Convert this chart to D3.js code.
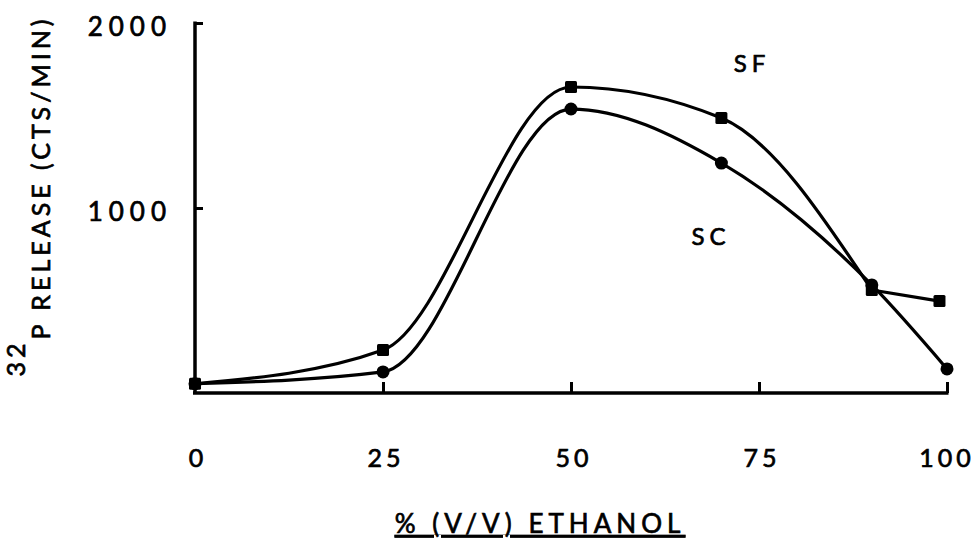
<!DOCTYPE html>
<html>
<head>
<meta charset="utf-8">
<script src="https://cdn.jsdelivr.net/npm/d3@7"></script>
<style>
  body { margin: 0; background: #fff; }
  text { font-family: "Lato", "DejaVu Sans", sans-serif; font-weight: normal; fill: #000;
         stroke: #000; stroke-width: 0.7px; }
</style>
</head>
<body>
<svg id="chart" width="977" height="544"></svg>
<script>
"use strict";

// data
const xTicks = [0, 25, 50, 75, 100];
const yTicks = [1000, 2000];
const sfX = [0, 25, 50, 70, 90, 99];
const sfY = [50, 232, 1654, 1486, 557, 497];
const scX = [0, 25, 50, 70, 90, 100];
const scY = [50, 114, 1535, 1243, 584, 130];

const svg = d3.select("#chart");
const x = d3.scaleLinear().domain([0, 100]).range([195, 947]);
const y = d3.scaleLinear().domain([0, 2000]).range([393, 23]);

const line = d3.line()
  .x(d => x(d[0]))
  .y(d => y(d[1]))
  .curve(d3.curveMonotoneX);

const sf = sfX.map((v, i) => [v, sfY[i]]);
const sc = scX.map((v, i) => [v, scY[i]]);

// axes (ticks point inward, like the original)
const gx = svg.append("g").attr("transform", `translate(0,${y(0)})`)
  .call(d3.axisTop(x).tickValues(xTicks.slice(1)).tickSize(11).tickFormat(""));
const gy = svg.append("g").attr("transform", `translate(${x(0)},0)`)
  .call(d3.axisRight(y).tickValues(yTicks).tickSize(8).tickFormat(""));
[gx, gy].forEach(g => {
  g.select(".domain").attr("stroke", "#000").attr("stroke-width", 3.5)
    .attr("d", g === gx ? `M${x(0) - 2},0H${x(100) + 1.5}` : `M0,${y(2000) - 1.5}V${y(0)}`);
  g.selectAll(".tick line").attr("stroke", "#000").attr("stroke-width", 3);
});

// tick labels
svg.append("g").selectAll("text").data(xTicks).join("text")
  .attr("x", d => x(d) + (d === 100 ? 0 : 3)).attr("y", 467)
  .attr("text-anchor", "middle")
  .style("font-size", "25px").style("letter-spacing", "4px")
  .text(d => d);
svg.append("g").selectAll("text").data(yTicks).join("text")
  .attr("x", 172).attr("y", d => y(d) + 13)
  .attr("text-anchor", "end")
  .style("font-size", "26px").style("letter-spacing", "6px")
  .text(d => d);

// curves: SF has a kink at 90, so its short tail is drawn on its own
const paths = [sf.slice(0, 5), sf.slice(4), sc];
paths.forEach(s => {
  svg.append("path").attr("d", line(s))
    .attr("fill", "none").attr("stroke", "#000").attr("stroke-width", 3.2)
    .attr("stroke-linejoin", "round").attr("stroke-linecap", "round");
});

svg.append("g").selectAll("rect").data(sf).join("rect")
  .attr("x", d => x(d[0]) - 6).attr("y", d => y(d[1]) - 6)
  .attr("width", 12).attr("height", 12).attr("rx", 1.5).attr("fill", "#000");
svg.append("g").selectAll("circle").data(sc).join("circle")
  .attr("cx", d => x(d[0])).attr("cy", d => y(d[1]))
  .attr("r", 6.5).attr("fill", "#000");

// series labels
svg.append("text").attr("x", 752).attr("y", 72).attr("text-anchor", "middle")
  .style("font-size", "24px").style("letter-spacing", "5px").text("SF");
svg.append("text").attr("x", 711).attr("y", 245).attr("text-anchor", "middle")
  .style("font-size", "24px").style("letter-spacing", "5px").text("SC");

// axis titles
const yl = svg.append("text")
  .attr("transform", "translate(50,196) rotate(-90)")
  .attr("text-anchor", "middle")
  .style("font-size", "25px").style("letter-spacing", "4px");
yl.append("tspan").attr("dy", "-25").text("32");
yl.append("tspan").attr("dy", "25").text("P RELEASE (CTS/MIN)");

svg.append("text").attr("x", 540).attr("y", 533).attr("text-anchor", "middle")
  .style("font-size", "26px").style("letter-spacing", "5px")
  .style("text-decoration", "underline")
  .text("% (V/V) ETHANOL");
</script>
</body>
</html>
